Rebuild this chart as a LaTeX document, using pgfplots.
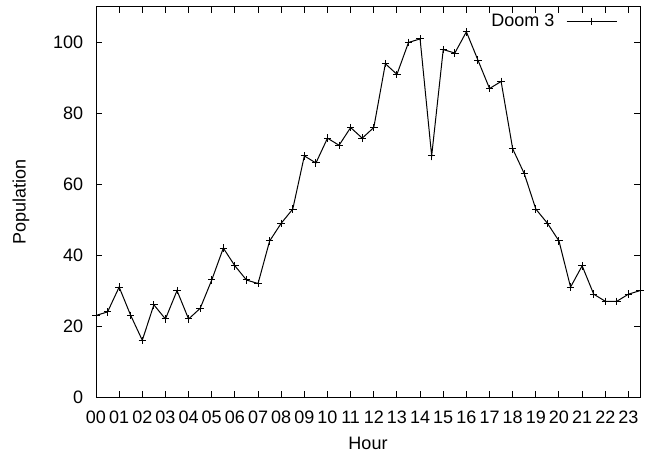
\documentclass[border=0pt]{standalone}
\usepackage{fontspec}
\setmainfont{Liberation Sans}
\usepackage{pgfplots}
\pgfplotsset{compat=1.18}
\begin{document}
\begin{tikzpicture}
\fontsize{13.5pt}{16pt}\selectfont
\begin{axis}[
  scale only axis,
  width=408pt, height=292.5pt,
  xmin=0, xmax=23.5, ymin=0, ymax=110,
  xtick={0,1,...,23},
  xticklabels={00,01,02,03,04,05,06,07,08,09,10,11,12,13,14,15,16,17,18,19,20,21,22,23},
  ytick={0,20,40,60,80,100},
  tick align=inside,
  major tick length=4.5pt,
  minor tick num=0,
  /pgf/number format/assume math mode=true,
  tick label style={font=\fontsize{13.5pt}{16pt}\selectfont},
  label style={font=\fontsize{13.5pt}{16pt}\selectfont},
  xlabel={Hour}, ylabel={Population},
  xticklabel style={anchor=base, inner sep=0pt, yshift=-19.6pt},
  yticklabel style={anchor=east, inner sep=0pt, xshift=-9.5pt},
  every axis x label/.style={at={(axis description cs:0.5,-0.1186)}, anchor=center},
  every axis y label/.style={at={(axis description cs:-0.1379,0.5)}, anchor=center, rotate=90},
  axis line style={line width=0.75pt},
  every tick/.style={line width=0.75pt, black},
  legend style={draw=none, fill=none, at={(rel axis cs:0.958,0.9624)}, anchor=east, font=\fontsize{13.5pt}{16pt}\selectfont, inner sep=0pt, outer sep=0pt, nodes={inner sep=0pt}, column sep=8.8pt, row sep=0pt},
  legend plot pos=right,
  legend image code/.code={\draw[mark repeat=2,mark phase=2,#1] plot coordinates {(0pt,0pt) (18.75pt,0pt) (37.5pt,0pt)};},
]
\addplot[black, line width=0.75pt, mark=+, mark size=2.8pt, mark options={line width=0.75pt}] coordinates {
(0,23) (0.5,24) (1,31) (1.5,23) (2,16) (2.5,26) (3,22) (3.5,30)
(4,22) (4.5,25) (5,33) (5.5,42) (6,37) (6.5,33) (7,32) (7.5,44)
(8,49) (8.5,53) (9,68) (9.5,66) (10,73) (10.5,71) (11,76) (11.5,73)
(12,76) (12.5,94) (13,91) (13.5,100) (14,101) (14.5,68) (15,98) (15.5,97)
(16,103) (16.5,95) (17,87) (17.5,89) (18,70) (18.5,63) (19,53) (19.5,49)
(20,44) (20.5,31) (21,37) (21.5,29) (22,27) (22.5,27) (23,29) (23.5,30)
};
\addlegendentry{Doom 3}
\end{axis}
\path (current axis.south west) ++(-72pt,-44.25pt) coordinate (bbsw);
\path (current axis.north east) ++(9pt,5.25pt) coordinate (bbne);
\useasboundingbox (bbsw) rectangle (bbne);
\end{tikzpicture}
\end{document}
